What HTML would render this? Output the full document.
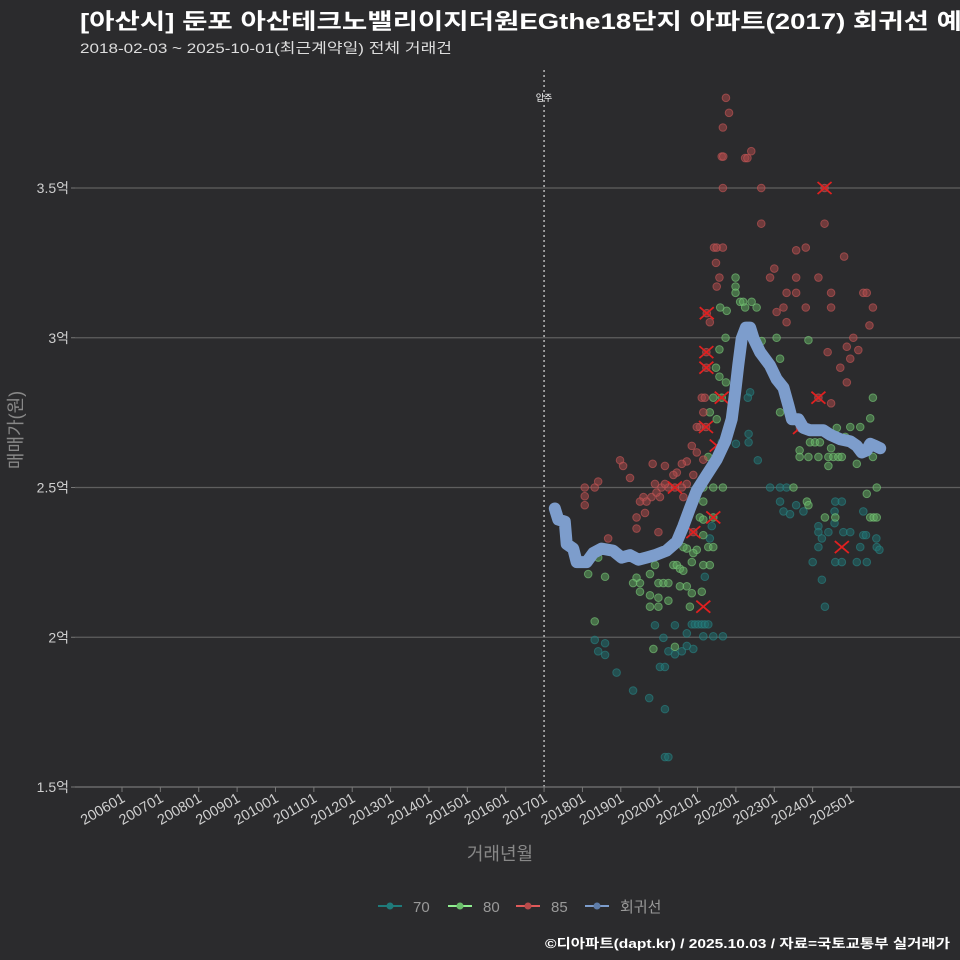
<!DOCTYPE html>
<html><head><meta charset="utf-8"><style>
body{margin:0;background:#2b2b2d;width:960px;height:960px;overflow:hidden;font-family:"Liberation Sans","Noto Sans CJK KR",sans-serif}
svg{display:block}
</style></head><body>
<svg id="chart" width="960" height="960" xmlns="http://www.w3.org/2000/svg">
<rect x="0" y="0" width="960" height="960" fill="#2b2b2d"/>
<text x="80" y="29" fill="#ffffff" font-size="22" font-weight="bold" textLength="882" lengthAdjust="spacingAndGlyphs" font-family="Liberation Sans, Noto Sans CJK KR, sans-serif">[아산시] 둔포 아산테크노밸리이지더원EGthe18단지 아파트(2017) 회귀선 예</text>
<text x="80" y="53" fill="#dddddd" font-size="14" textLength="372" lengthAdjust="spacingAndGlyphs" font-family="Liberation Sans, Noto Sans CJK KR, sans-serif">2018-02-03 ~ 2025-10-01(최근계약일) 전체 거래건</text>
<g id="grid"></g>
<g id="marks"></g>
<g id="axes"></g>
<text transform="translate(22,430) rotate(-90)" text-anchor="middle" fill="#888" font-size="18" font-family="Liberation Sans, Noto Sans CJK KR, sans-serif">매매가(원)</text>
<text x="500" y="860" text-anchor="middle" fill="#888" font-size="18" font-family="Liberation Sans, Noto Sans CJK KR, sans-serif">거래년월</text>
<g font-size="15" fill="#999" font-family="Liberation Sans, Noto Sans CJK KR, sans-serif">
  <g><line x1="378" y1="906" x2="402" y2="906" stroke="#1f7a7a" stroke-width="2"/><circle cx="390" cy="906" r="3.5" fill="#1f7a7a"/><text x="413" y="912">70</text></g>
  <g><line x1="448" y1="906" x2="472" y2="906" stroke="#90ee90" stroke-width="2"/><circle cx="460" cy="906" r="3.5" fill="#6cbf6c"/><text x="483" y="912">80</text></g>
  <g><line x1="516" y1="906" x2="540" y2="906" stroke="#e05a5a" stroke-width="2"/><circle cx="528" cy="906" r="3.5" fill="#b84a4a"/><text x="551" y="912">85</text></g>
  <g><line x1="585" y1="906" x2="609" y2="906" stroke="#7d9dcc" stroke-width="2"/><circle cx="597" cy="906" r="3.5" fill="#5e7ca8"/><text x="620" y="912">회귀선</text></g>
</g>
<text x="950" y="948" text-anchor="end" fill="#ffffff" font-size="13" font-weight="bold" textLength="405" lengthAdjust="spacingAndGlyphs" font-family="Liberation Sans, Noto Sans CJK KR, sans-serif">©디아파트(dapt.kr) / 2025.10.03 / 자료=국토교통부 실거래가</text>
</svg>
<script>
const yTicks=[1.5,2,2.5,3,3.5];
const yTickLabels=["1.5억","2억","2.5억","3억","3.5억"];
const xTickYears=[2006,2007,2008,2009,2010,2011,2012,2013,2014,2015,2016,2017,2018,2019,2020,2021,2022,2023,2024,2025];
const moveInYear=2017.0;
const s70Years=[2022.37,2022.31,2022.33,2022.33,2022.57,2022.00,2021.76,2021.63,2022.89,2023.15,2023.32,2023.15,2023.24,2023.41,2023.57,2023.76,2024.15,2024.15,2024.15,2024.24,2024.41,2024.57,2024.57,2024.59,2024.76,2024.80,2024.98,2025.32,2025.32,2025.39,2025.66,2025.67,2025.74,2025.24,2025.41,2025.15,2024.59,2024.76,2024.00,2024.24,2024.32,2020.85,2020.93,2021.02,2021.11,2021.19,2021.28,2020.72,2021.15,2021.41,2021.66,2020.89,2020.72,2020.59,2020.41,2020.24,2020.11,2019.89,2020.41,2020.02,2020.15,2018.32,2018.59,2018.41,2018.59,2018.89,2019.32,2019.74,2020.15,2020.15,2020.24,2021.32,2021.37,2021.19];
const s70Prices=[2.818,2.800,2.679,2.651,2.591,2.646,2.651,2.651,2.500,2.500,2.500,2.453,2.420,2.411,2.441,2.420,2.371,2.351,2.301,2.330,2.351,2.420,2.381,2.453,2.453,2.351,2.351,2.420,2.341,2.341,2.330,2.301,2.292,2.301,2.251,2.251,2.251,2.251,2.251,2.192,2.102,2.043,2.043,2.043,2.043,2.043,2.043,2.013,2.003,2.003,2.003,1.961,1.971,1.953,1.943,1.953,1.998,2.040,2.040,1.901,1.901,1.991,1.980,1.953,1.941,1.882,1.822,1.797,1.760,1.600,1.600,2.330,2.371,2.202];
const s80Years=[2021.99,2021.99,2021.99,2022.11,2022.19,2022.41,2021.76,2021.59,2022.24,2022.54,2021.73,2021.57,2021.48,2021.57,2021.74,2021.41,2021.63,2021.32,2021.50,2021.28,2021.15,2021.41,2021.66,2021.15,2021.06,2021.15,2021.41,2021.15,2021.28,2021.41,2020.98,2020.89,2020.72,2020.63,2020.37,2020.46,2020.54,2020.63,2020.85,2021.15,2021.32,2019.89,2019.76,2019.98,2020.11,2020.24,2019.50,2019.41,2019.32,2019.50,2019.76,2019.98,2020.24,2020.54,2020.72,2020.85,2021.11,2020.80,2019.98,2019.76,2018.41,2018.15,2018.59,2018.32,2019.85,2020.41,2023.06,2023.15,2023.89,2023.15,2023.66,2023.66,2023.93,2024.06,2024.19,2023.89,2024.15,2024.41,2024.54,2024.67,2024.76,2024.41,2024.48,2024.63,2024.98,2025.24,2024.85,2025.15,2025.57,2025.57,2025.50,2025.67,2025.41,2025.50,2025.59,2025.67,2023.85,2023.89,2023.50,2024.32,2024.59,2022.67,2023.19];
const s80Prices=[3.201,3.171,3.150,3.120,3.120,3.120,3.090,3.101,3.101,3.101,3.000,2.961,2.900,2.870,2.851,2.800,2.800,2.751,2.728,2.602,2.500,2.500,2.500,2.453,2.400,2.393,2.400,2.341,2.301,2.301,2.292,2.281,2.296,2.301,2.241,2.241,2.229,2.222,2.251,2.241,2.241,2.241,2.211,2.181,2.181,2.181,2.181,2.199,2.181,2.152,2.140,2.132,2.122,2.170,2.170,2.147,2.152,2.102,2.102,2.102,2.266,2.211,2.202,2.053,1.961,1.968,3.000,2.930,2.992,2.751,2.624,2.602,2.651,2.651,2.651,2.602,2.602,2.602,2.602,2.602,2.602,2.572,2.631,2.699,2.702,2.702,2.669,2.579,2.602,2.800,2.731,2.500,2.479,2.400,2.400,2.400,2.453,2.441,2.500,2.400,2.400,2.989,2.848];
const s85Years=[2021.74,2021.82,2021.66,2021.63,2021.67,2022.24,2022.30,2022.40,2021.66,2022.66,2022.66,2021.43,2021.50,2021.66,2021.48,2021.57,2021.50,2021.24,2021.32,2021.23,2021.23,2021.11,2021.19,2021.15,2021.06,2020.98,2021.22,2020.85,2020.98,2021.15,2020.72,2020.59,2020.46,2020.37,2020.89,2020.72,2020.59,2020.41,2020.24,2020.06,2019.89,2019.80,2019.59,2019.50,2019.67,2020.02,2020.15,2019.93,2020.63,2020.15,2019.83,2019.24,2018.98,2019.06,2018.41,2018.32,2018.06,2018.06,2018.06,2019.41,2019.63,2019.98,2018.67,2019.41,2020.89,2023.57,2023.82,2024.31,2024.31,2024.82,2024.15,2023.57,2022.89,2023.00,2023.32,2023.57,2023.82,2024.48,2024.48,2023.24,2023.06,2023.32,2025.32,2025.41,2025.57,2025.48,2025.06,2024.89,2025.19,2024.98,2024.72,2024.89,2024.39,2024.15,2024.48,2023.67];
const s85Prices=[3.801,3.751,3.702,3.605,3.605,3.600,3.600,3.623,3.500,3.500,3.381,3.301,3.301,3.301,3.250,3.201,3.171,3.082,3.052,2.952,2.900,2.800,2.800,2.751,2.702,2.702,2.702,2.639,2.617,2.593,2.587,2.579,2.550,2.542,2.542,2.512,2.500,2.500,2.500,2.500,2.512,2.468,2.468,2.453,2.453,2.468,2.512,2.483,2.468,2.572,2.579,2.532,2.591,2.572,2.520,2.500,2.500,2.471,2.441,2.400,2.415,2.351,2.330,2.363,2.351,3.292,3.301,3.381,3.500,3.271,3.201,3.201,3.201,3.231,3.150,3.150,3.101,3.150,3.101,3.101,3.086,3.052,3.150,3.150,3.101,3.041,3.000,2.970,2.959,2.930,2.900,2.851,2.952,2.800,2.781,2.699];
const xMarkYears=[2021.24,2021.23,2021.23,2021.22,2020.41,2020.89,2021.41,2021.15,2021.63,2024.31,2024.15,2024.76,2023.67,2021.50];
const xMarkPrices=[3.082,2.952,2.900,2.702,2.500,2.351,2.400,2.102,2.800,3.500,2.800,2.301,2.699,2.640];
const regYears=[2017.28,2017.37,2017.54,2017.59,2017.76,2017.85,2018.11,2018.28,2018.50,2018.80,2019.02,2019.24,2019.46,2019.67,2019.89,2020.19,2020.46,2020.63,2020.80,2020.98,2021.24,2021.50,2021.72,2021.89,2021.98,2022.06,2022.15,2022.26,2022.37,2022.46,2022.63,2022.89,2023.06,2023.24,2023.37,2023.46,2023.63,2023.76,2023.93,2024.11,2024.28,2024.46,2024.72,2024.98,2025.15,2025.28,2025.41,2025.50,2025.63,2025.76];
const regPrices=[2.430,2.393,2.386,2.311,2.296,2.251,2.251,2.281,2.296,2.289,2.266,2.274,2.259,2.266,2.274,2.289,2.319,2.371,2.430,2.490,2.542,2.594,2.654,2.728,2.818,2.907,2.997,3.034,3.034,2.997,2.952,2.907,2.862,2.833,2.773,2.728,2.728,2.699,2.691,2.691,2.691,2.676,2.661,2.654,2.639,2.617,2.624,2.646,2.639,2.631];

const NS="http://www.w3.org/2000/svg";
function xS(yr){return 122+(yr-2006)*38.37;}
function yS(p){return 787-(p-1.5)*299.5;}
function mk(tag,attrs,parent){const e=document.createElementNS(NS,tag);for(const k in attrs)e.setAttribute(k,attrs[k]);parent.appendChild(e);return e;}
const grid=document.getElementById('grid'),marks=document.getElementById('marks'),axes=document.getElementById('axes');
yTicks.forEach((t,i)=>{
  if(i>0){const g=mk('line',{x1:75,x2:960,y1:yS(t),y2:yS(t),stroke:'#5f5f5f','stroke-width':1.2},grid);
  
  }
  const tk=mk('line',{x1:71,x2:75,y1:yS(t),y2:yS(t),stroke:'#777'},axes);
  
  
  const lb=mk('text',{x:69,y:yS(t)+5,'text-anchor':'end',fill:'#cfcfcf','font-size':14},axes);
  
  
  lb.textContent=yTickLabels[i];
});
const axl=mk('line',{x1:75,x2:960,y1:787,y2:787,stroke:'#777','stroke-width':1.2},axes);


xTickYears.forEach(y=>{
  const x=xS(y);
  const tk=mk('line',{x1:x,x2:x,y1:787,y2:792,stroke:'#777'},axes);
  
  
  const lb=mk('text',{transform:`translate(${x+4},${801}) rotate(-30)`,'text-anchor':'end',fill:'#cfcfcf','font-size':14.5},axes);
  
  
  lb.textContent=y+"01";
});
const mv=mk('line',{x1:xS(moveInYear),x2:xS(moveInYear),y1:70,y2:787,stroke:'#bbbbbb','stroke-width':1.5,'stroke-dasharray':'2,3'},marks);


const mvt=mk('text',{x:xS(moveInYear),y:101,'text-anchor':'middle',fill:'#fff','font-size':9},marks);


mvt.textContent='입주';
function pts(ys,ps,fill,stroke,name){
  ys.forEach((y,i)=>{
    const c=mk('circle',{cx:xS(y),cy:yS(ps[i]),r:3.8,fill:fill,stroke:stroke,'stroke-width':1,'fill-opacity':0.55,'stroke-opacity':0.6},marks);
    
    
  });
}
pts(s70Years,s70Prices,'#1f6e6e','#2a8585','point-70');
pts(s80Years,s80Prices,'#5fa85f','#7ccc7c','point-80');
pts(s85Years,s85Prices,'#a84848','#c95858','point-85');
xMarkYears.forEach((y,i)=>{
  const cx=xS(y),cy=yS(xMarkPrices[i]);
  const g=mk('path',{d:`M${cx-7},${cy-6}L${cx+7},${cy+6}M${cx-7},${cy+6}L${cx+7},${cy-6}`,stroke:'#e02020','stroke-width':1.8,fill:'none'},marks);
  
  
});
const rl=mk('polyline',{points:regYears.map((y,i)=>xS(y)+','+yS(regPrices[i])).join(' '),fill:'none',stroke:'#7d9dcc','stroke-width':12,'stroke-linejoin':'round','stroke-linecap':'round'},marks);


</script>
</body></html>
